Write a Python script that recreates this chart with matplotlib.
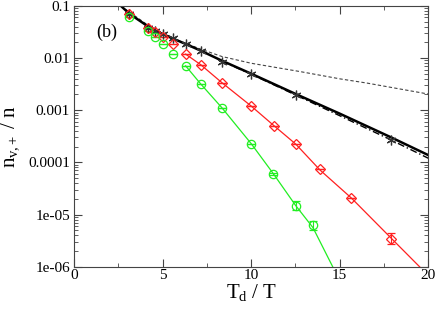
import numpy as np
import matplotlib.pyplot as plt
from matplotlib.ticker import FixedLocator, FixedFormatter, MultipleLocator, LogLocator, NullFormatter

plt.rcParams['font.family'] = ['Liberation Serif', 'DejaVu Serif']
plt.rcParams['mathtext.fontset'] = 'custom'
plt.rcParams['mathtext.rm'] = 'Liberation Serif'
plt.rcParams['mathtext.it'] = 'Liberation Serif:italic'

# === data (log10 values) ===
star_x = [3.12, 4.2, 4.55, 5.0, 5.6, 6.3, 7.16, 8.34, 10.0, 12.52, 17.9]
star_y = [-1.16, -1.42, -1.48, -1.54, -1.62, -1.73, -1.86, -2.07, -2.30, -2.70, -3.57]

dia_x = [3.12, 4.2, 4.55, 5.0, 5.6, 6.3, 7.16, 8.34, 10.0, 11.3, 12.52, 13.9, 15.65, 17.9]
dia_y = [-1.16, -1.43, -1.50, -1.60, -1.73, -1.925, -2.13, -2.47, -2.92, -3.30, -3.64, -4.12, -4.68, -5.46]
dia_err = [0, 0, 0, 0, 0, 0, 0, 0, 0, 0, 0, 0, 0, 0.10]

circ_x = [3.12, 4.2, 4.55, 5.0, 5.6, 6.3, 7.16, 8.34, 10.0, 11.26, 12.52, 13.49]
circ_y = [-1.22, -1.48, -1.59, -1.73, -1.92, -2.15, -2.50, -2.95, -3.64, -4.22, -4.83, -5.21]
circ_err = [0, 0, 0, 0, 0, 0, 0, 0, 0, 0.02, 0.08, 0.08]

# fitted curves
black_x = [2.64, 3.12, 4.2, 4.55, 5.0, 5.6, 6.3, 7.16, 8.34, 10.0, 12.52, 15.03, 17.9, 20.0]
black_y = [-1.0, -1.15, -1.40, -1.47, -1.54, -1.63, -1.73, -1.86, -2.05, -2.30, -2.69, -3.07, -3.52, -3.86]
dashdot_x = [8.34, 10.0, 12.52, 15.03, 17.9, 20.0]
dashdot_y = [-2.06, -2.31, -2.71, -3.11, -3.57, -3.92]
dashed_x = [2.64, 4.0, 5.0, 6.0, 7.16, 8.34, 10.0, 12.77, 15.03, 16.54, 20.0]
dashed_y = [-1.0, -1.33, -1.52, -1.68, -1.83, -1.97, -2.10, -2.26, -2.40, -2.48, -2.69]
red_x = [6.3, 7.16, 8.34, 10.0, 11.3, 12.52, 13.9, 15.65, 17.9, 19.6]
red_y = [-1.925, -2.13, -2.47, -2.92, -3.30, -3.65, -4.15, -4.68, -5.45, -6.03]
green_x = [6.3, 7.16, 8.34, 10.0, 11.26, 12.52, 13.49, 14.65]
green_y = [-2.15, -2.50, -2.95, -3.64, -4.22, -4.83, -5.25, -6.03]

yticks = [1e-6, 1e-5, 1e-4, 1e-3, 1e-2, 1e-1]
ytick_labels = ['1e-06', '1e-05', '0.0001', '0.001', '0.01', '0.1']

p = lambda v: 10 ** np.array(v)

fig = plt.figure(figsize=(4.36, 3.09), dpi=100)
ax = fig.add_axes([0.170, 0.137, 0.812, 0.844])

ax.plot(dashed_x, p(dashed_y), color='#444444', lw=0.8, ls=(0, (3, 2)))
ax.plot(dashdot_x, p(dashdot_y), color='black', lw=1.0, ls=(0, (5, 2, 1, 2)))
ax.plot(black_x, p(black_y), color='black', lw=1.8)
ax.plot(red_x, p(red_y), color='#ff2020', lw=0.9)
ax.plot(green_x, p(green_y), color='#22ee22', lw=0.9)

# error bars in log space -> absolute
dy = p(dia_y)
ax.errorbar(dia_x, dy, yerr=[dy - dy * 10 ** -np.array(dia_err), dy * 10 ** np.array(dia_err) - dy],
            fmt='D', ms=5, mfc='none', mec='#ff2020', ecolor='#ff2020', elinewidth=0.8, capsize=3, mew=0.9)
cy = p(circ_y)
ax.errorbar(circ_x, cy, yerr=[cy - cy * 10 ** -np.array(circ_err), cy * 10 ** np.array(circ_err) - cy],
            fmt='o', ms=6, mfc='none', mec='#22ee22', ecolor='#22ee22', elinewidth=0.8, capsize=3, mew=0.9)
ax.plot(star_x, p(star_y), ls='none', marker=(6, 2, 0), ms=7, color='#333333', mew=0.9)

ax.set_yscale('log')
ax.set_xlim(0, 20)
ax.set_ylim(1e-6, 0.1)
ax.yaxis.set_major_locator(FixedLocator(yticks))
ax.yaxis.set_major_formatter(FixedFormatter(ytick_labels))
ax.yaxis.set_minor_locator(LogLocator(base=10, subs=np.arange(2, 10)))
ax.yaxis.set_minor_formatter(NullFormatter())
ax.xaxis.set_major_locator(MultipleLocator(5))
ax.xaxis.set_minor_locator(MultipleLocator(2.5))
ax.tick_params(which='both', direction='in', top=True, right=True, labelsize=11, color='#444444')
ax.tick_params(which='major', length=6)
ax.tick_params(which='minor', length=3)
ax.tick_params(axis='x', pad=2)
ax.tick_params(axis='y', pad=3)
for s in ax.spines.values():
    s.set_color('#444444')

ax.set_xlabel(r'$\mathrm{T_d\ /\ T}$', fontsize=15, labelpad=0)
ax.set_ylabel(r'$\mathrm{n_{v{,}+}\ /\ n}$', fontsize=15)
ax.yaxis.set_label_coords(-0.15, 0.5)

ax.text(1.25, 0.031, '(b)', fontsize=13, va='center')

fig.savefig('out.png', dpi=100)
